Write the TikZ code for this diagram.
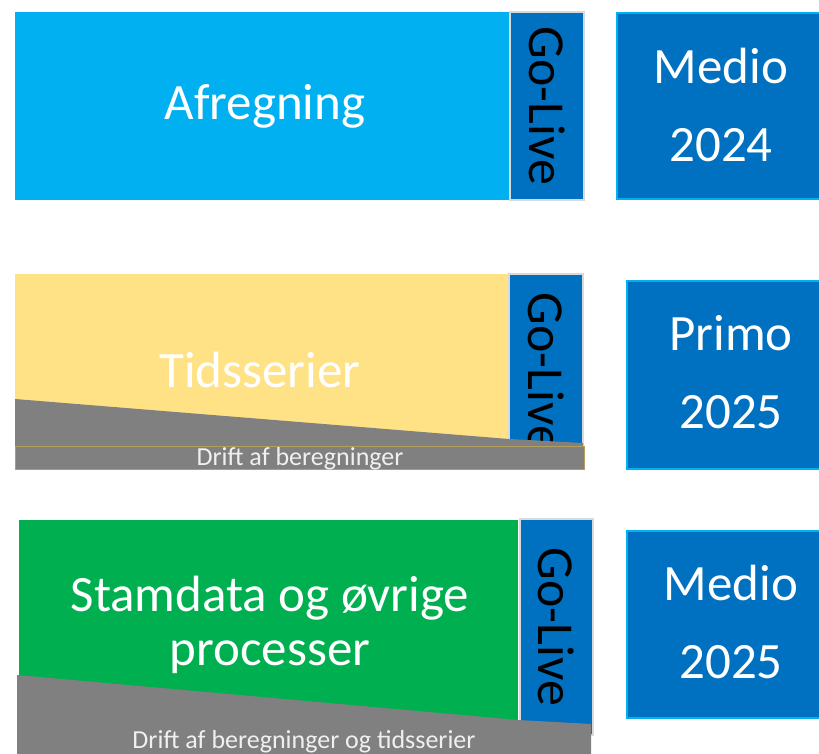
\documentclass[tikz,border=0pt]{standalone}
\usepackage{fontspec}
\setmainfont{Carlito}
\usepackage{tikz}

\definecolor{skyblue}{HTML}{00B0F0}
\definecolor{deepblue}{HTML}{0070C0}
\definecolor{sandyellow}{HTML}{FFE285}
\definecolor{grassgreen}{HTML}{00B050}
\definecolor{slategrey}{HTML}{808080}
\definecolor{paleframe}{HTML}{D9D9D9}

\begin{document}
\begin{tikzpicture}
[x=0.02cm, y=-0.02cm,
phase/.style={text=white, anchor=base, align=center, font=\fontsize{29}{30}\selectfont},
golive/.style={fill=deepblue, draw=paleframe, line width=1.2pt},
golive text/.style={rotate=-90, font=\fontsize{29.5}{33}\selectfont},
deadline/.style={fill=deepblue, draw=skyblue, line width=1.2pt},
deadline text/.style={text=white, anchor=base, align=center, font=\fontsize{29}{44}\selectfont},
drift/.style={fill=slategrey},
drift text/.style={text=white!94!black, anchor=base, font=\fontsize{14.8}{16}\selectfont}]
\clip (0,0) rectangle (819,754);
% Afregning
\fill[skyblue] (15,12) rectangle (509,200);
\node[phase] (afregning) at (265,119) {Afregning};
\draw[golive] (510,12) rectangle (584,200);
\node[golive text] (golive1) at (547,106) {Go-Live};
\draw[deadline] (617,13) rectangle (840,199);
\node[deadline text] (medio24) at (721,161) {Medio\\2024};
% Tidsserier
\fill[sandyellow] (15,274) rectangle (509,470);
\draw[golive] (509,274) rectangle (583,458);
\node[golive text] (golive2) at (546,372) {Go-Live};
\fill[slategrey] (15,399) -- (509,439) -- (583,443) -- (583,446) -- (15,446) -- cycle;
\draw[drift, draw=sandyellow!70!black, line width=0.3pt] (15,446) rectangle (584,469);
\node[drift text] (drift2) at (300,465) {Drift af beregninger};
\node[phase] (tidsserier) at (260,387) {Tidsserier};
\draw[deadline] (627,281) rectangle (840,469);
\node[deadline text] (primo25) at (731,428) {Primo\\2025};
% Stamdata og oevrige processer
\fill[grassgreen] (19,520) rectangle (518,754);
\draw[golive] (520,519) rectangle (593,735);
\node[golive text] (golive3) at (556,627) {Go-Live};
\fill[slategrey] (17,675) -- (518,720) -- (591,724) -- (591,754) -- (17,754) -- cycle;
\node[drift text] (drift3) at (304,748) {Drift af beregninger og tidsserier};
\node[phase, font=\fontsize{29}{30.5}\selectfont] (stamdata) at (270,665) {Stamdata og øvrige\\processer};
\draw[deadline] (627,531) rectangle (840,718);
\node[deadline text] (medio25) at (731,678) {Medio\\2025};
\end{tikzpicture}
\end{document}
